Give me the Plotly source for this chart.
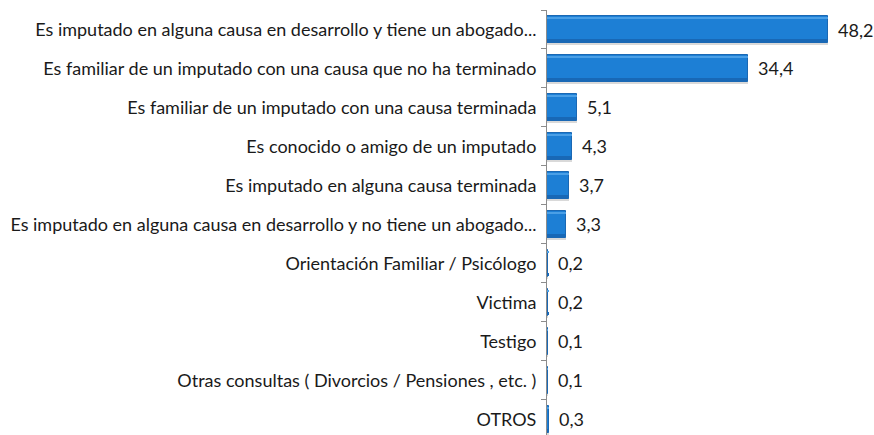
import plotly.graph_objects as go

categorias = [
    "Es imputado en alguna causa en desarrollo y tiene un abogado...",
    "Es familiar de un imputado con una causa que no ha terminado",
    "Es familiar de un imputado con una causa terminada",
    "Es conocido o amigo de un imputado",
    "Es imputado en alguna causa terminada",
    "Es imputado en alguna causa en desarrollo y no tiene un abogado...",
    "Orientación Familiar / Psicólogo",
    "Victima",
    "Testigo",
    "Otras consultas ( Divorcios / Pensiones , etc. )",
    "OTROS",
]
valores = [48.2, 34.4, 5.1, 4.3, 3.7, 3.3, 0.2, 0.2, 0.1, 0.1, 0.3]
etiquetas = [f"{v:.1f}".replace(".", ",") for v in valores]

# plot from the bottom category upwards so the list reads top-down
cats = categorias[::-1]
vals = valores[::-1]
labs = etiquetas[::-1]

FONT = "Lato"
SIZE = 18
ANCHO = 0.70
RANGO_Y = [-0.4, 10.5]

fig = go.Figure()

# soft drop shadow under each bar
fig.add_trace(go.Bar(
    y=cats, x=vals, orientation="h",
    width=ANCHO, offset=-ANCHO / 2 - 0.06,
    marker=dict(color="rgba(80,80,80,0.22)", line=dict(width=0)),
    hoverinfo="skip", showlegend=False,
))
# main bar body
fig.add_trace(go.Bar(
    y=cats, x=vals, orientation="h",
    width=ANCHO, offset=-ANCHO / 2,
    marker=dict(color="#1d7fd5", line=dict(color="#1a68b4", width=1)),
    showlegend=False,
))
# upper bevel highlight
fig.add_trace(go.Bar(
    y=cats, x=vals, orientation="h",
    width=0.06, offset=ANCHO / 2 - 0.085,
    marker=dict(color="#4a9fe6", line=dict(width=0)),
    hoverinfo="skip", showlegend=False,
))
# lower bevel shade
fig.add_trace(go.Bar(
    y=cats, x=vals, orientation="h",
    width=0.08, offset=-ANCHO / 2 + 0.02,
    marker=dict(color="#1868b6", line=dict(width=0)),
    hoverinfo="skip", showlegend=False,
))
# invisible anchor trace for the tick-mark axis
fig.add_trace(go.Scatter(
    x=[0], y=[0], yaxis="y2", mode="markers",
    marker=dict(opacity=0), hoverinfo="skip", showlegend=False,
))

for cat, v, t in zip(cats, vals, labs):
    fig.add_annotation(
        x=v, y=cat, text=t, showarrow=False,
        xanchor="left", yanchor="middle", xshift=8,
        font=dict(family=FONT, size=SIZE, color="#1a1a1a"),
    )

fig.update_layout(
    width=874, height=435,
    margin=dict(l=547, r=0, t=10, b=0),
    paper_bgcolor="white", plot_bgcolor="white",
    barmode="overlay",
    bargap=0,
    xaxis=dict(range=[0, 56.1], visible=False, fixedrange=True),
    yaxis=dict(
        type="category",
        categoryorder="array", categoryarray=cats,
        range=RANGO_Y,
        showline=True, linecolor="#8c8c8c", linewidth=1,
        ticks="", showgrid=False, zeroline=False,
        tickfont=dict(family=FONT, size=SIZE, color="#1a1a1a"),
        ticklabelstandoff=6,
    ),
    # tick marks between categories
    yaxis2=dict(
        overlaying="y", side="left", anchor="x",
        range=RANGO_Y,
        tickmode="array",
        tickvals=[i + 0.5 for i in range(-1, len(categorias))],
        ticks="outside", ticklen=5, tickcolor="#8c8c8c", tickwidth=1,
        showticklabels=False, showgrid=False, zeroline=False,
        showline=False,
    ),
)

fig.write_html("out.html")
